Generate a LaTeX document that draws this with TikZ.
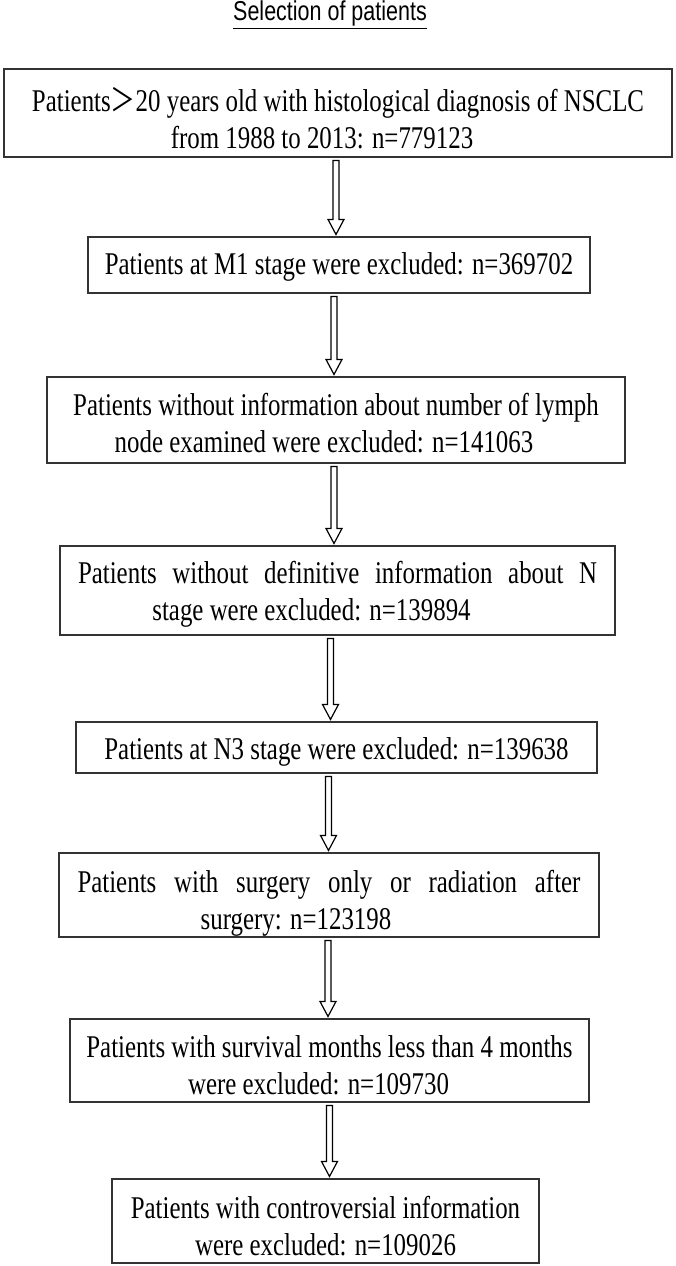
\documentclass[tikz,border=0pt]{standalone}
\usepackage{fontspec}
\setmainfont{Liberation Serif}
\setsansfont{Liberation Sans}
\newfontfamily\cjkfont{Noto Sans CJK SC}
\usepackage{graphicx}
\usetikzlibrary{calc}
% stretched text, lowered a little inside its box
\newcommand{\tall}[2][7pt]{\raisebox{-#1}[\height][\depth]{\scalebox{1}[1.27]{#2}}}
\tikzset{
    stage/.style={
           rectangle,
           draw=black!80, line width=1.1pt,
           inner sep=0pt,
           text centered,
           font=\fontsize{24.9}{29}\selectfont
           },
    blockarrow/.style={
           draw=black, line width=1.2pt, fill=white,
           to path={let \p1=(\tikztostart), \p2=(\tikztotarget) in
             (\x1-3pt,\y1-3pt) -- (\x1-3pt,\y2+17pt) -- (\x1-8pt,\y2+17pt)
             -- (\x1,\y2+2pt) -- (\x1+8pt,\y2+17pt) -- (\x1+3pt,\y2+17pt)
             -- (\x1+3pt,\y1-3pt) -- cycle}
           },
}
\begin{document}
\begin{tikzpicture}[x=1pt,y=1pt]
\useasboundingbox (0,0) rectangle (675,-1266);

             \node[font=\sffamily\fontsize{21.5}{24}\selectfont] (title) at (330,-15)
             {\tall[0pt]{\underline{Selection of patients}}};

             \node[stage,
              minimum width=668pt, minimum height=88pt
              ] (ALL) at (338,-113)
             {\tall[10pt]{\begin{tabular}{c}
              Patients{\cjkfont ＞}20 years old with histological diagnosis of NSCLC\\
              from 1988 to 2013: n=779123\hspace*{32pt}
             \end{tabular}}};

             \node[stage,
              minimum width=502pt, minimum height=56pt,
              below of=ALL, node distance=152pt, xshift=1pt,
              anchor=center] (M1)
             {\tall[2pt]{Patients at M1 stage were excluded: n=369702}};

             \node[stage,
              minimum width=578pt, minimum height=86pt,
              below of=M1, node distance=155pt, xshift=-3pt,
              anchor=center] (LYMPH)
             {\tall{\begin{tabular}{c}
              Patients without information about number of lymph\\
              node examined were excluded: n=141063\hspace*{24pt}
             \end{tabular}}};

             \node[stage,
              minimum width=555pt, minimum height=89pt,
              below of=LYMPH, node distance=170.5pt, xshift=1.5pt,
              anchor=center] (NSTAGE)
             {\tall[4pt]{\begin{tabular}{c}
              \makebox[519pt][s]{Patients without definitive information about N}\\
              stage were excluded: n=139894\hspace*{52pt}
             \end{tabular}}};

             \node[stage,
              minimum width=521pt, minimum height=51pt,
              below of=NSTAGE, node distance=157pt, xshift=-1pt,
              anchor=center] (N3)
             {\tall[4pt]{Patients at N3 stage were excluded: n=139638}};

             \node[stage,
              minimum width=540pt, minimum height=84pt,
              below of=N3, node distance=147.5pt, xshift=-7.5pt,
              anchor=center] (SURG)
             {\tall[9pt]{\begin{tabular}{c}
              \makebox[503pt][s]{Patients with surgery only or radiation after}\\
              surgery: n=123198\hspace*{66pt}
             \end{tabular}}};

             \node[stage,
              minimum width=519pt, minimum height=83pt,
              below of=SURG, node distance=165.5pt, xshift=0.5pt,
              anchor=center] (SURV)
             {\tall[8pt]{\begin{tabular}{c}
              Patients with survival months less than 4 months\\
              were excluded: n=109730\hspace*{22pt}
             \end{tabular}}};

             \node[stage,
              minimum width=427pt, minimum height=84pt,
              below of=SURV, node distance=160.5pt, xshift=-4pt,
              anchor=center] (CONTRA)
             {\tall[9pt]{\begin{tabular}{c}
              Patients with controversial information\\
              were excluded: n=109026
             \end{tabular}}};

             \path
             ([xshift=-2pt]ALL.south)    edge[blockarrow] (M1.north)
             ([xshift=-5pt]M1.south)     edge[blockarrow] (LYMPH.north)
             ([xshift=-2pt]LYMPH.south)  edge[blockarrow] (NSTAGE.north)
             ([xshift=-7pt]NSTAGE.south) edge[blockarrow] (N3.north)
             ([xshift=-8pt]N3.south)     edge[blockarrow] (SURG.north)
             ([xshift=-1pt]SURG.south)   edge[blockarrow] (SURV.north)
             (SURV.south)                edge[blockarrow] (CONTRA.north)
             ;

\end{tikzpicture}
\end{document}
